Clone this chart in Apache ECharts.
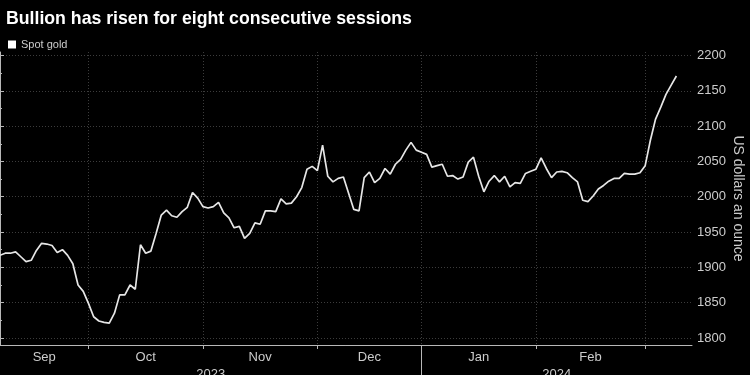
<!DOCTYPE html>
<html>
<head>
<meta charset="utf-8">
<script src="https://cdn.jsdelivr.net/npm/echarts@6/dist/echarts.min.js"></script>
<style>
html,body{margin:0;padding:0;background:#000;}
#chart{width:750px;height:375px;}
</style>
</head>
<body>
<div id="chart"></div>
<script>
// Spot gold, US dollars an ounce, one value per trading session
const sep = [1917, 1920, 1920, 1922, 1915, 1908, 1910, 1924, 1934, 1933, 1931, 1921, 1925, 1917, 1905, 1875, 1866, 1849];
const oct = [1830, 1824, 1822, 1821, 1835, 1861, 1861, 1875, 1869, 1932, 1920, 1923, 1948, 1974, 1981, 1973, 1971, 1979, 1985, 2006, 1998, 1986];
const nov = [1984, 1986, 1992, 1977, 1970, 1956, 1958, 1941, 1948, 1963, 1961, 1980, 1980, 1979, 1997, 1990, 1991, 2000, 2013, 2039, 2043, 2037];
const dec = [2073, 2029, 2021, 2026, 2028, 2005, 1982, 1980, 2027, 2035, 2020, 2026, 2040, 2032, 2046, 2053, 2066, 2077, 2066, 2063];
const jan = [2060, 2042, 2044, 2046, 2029, 2030, 2025, 2028, 2049, 2056, 2029, 2007, 2022, 2030, 2021, 2029, 2014, 2020, 2019, 2033, 2036, 2039];
const feb = [2055, 2040, 2027, 2035, 2036, 2034, 2027, 2021, 1995, 1993, 2001, 2011, 2016, 2022, 2026, 2026, 2033, 2032, 2032, 2034, 2044];
const mar = [2080, 2110, 2127, 2145, 2158, 2171];

const monthLabels = ["Sep", "Oct", "Nov", "Dec", "Jan", "Feb"];
const yearLabels = ["2023", "2024"];
const yTicks = [1800, 1850, 1900, 1950, 2000, 2050, 2100, 2150, 2200];
const yMinorTicks = [1825, 1875, 1925, 1975, 2025, 2075, 2125, 2175];

const months = [sep, oct, nov, dec, jan, feb, mar];
const values = [].concat(...months);
const seriesData = values.map((v, i) => [i, v]);

// month boundaries: index of last session in each month
const bounds = [];
let acc = 0;
months.slice(0, 6).forEach(m => { acc += m.length; bounds.push(acc - 1); });
const X_MAX = 133;
const monthCenters = bounds.map((b, k) => ((k === 0 ? 0 : bounds[k - 1]) + b) / 2);
const monthMap = {};
monthCenters.forEach((c, k) => { monthMap[c] = monthLabels[k]; });
const yearBoundary = bounds[3];
const yearCenters = [yearBoundary / 2, (yearBoundary + X_MAX) / 2];
const yearMap = {};
yearCenters.forEach((c, k) => { yearMap[c] = yearLabels[k]; });

const FONT = "Liberation Sans";
const chart = echarts.init(document.getElementById('chart'));
chart.setOption({
  backgroundColor: '#000',
  animation: false,
  title: {
    text: 'Bullion has risen for eight consecutive sessions',
    left: 1, top: 5,
    textStyle: { color: '#ffffff', fontSize: 17.7, fontWeight: 'bold', fontFamily: FONT }
  },
  legend: {
    data: ['Spot gold'],
    left: 3, top: 34,
    icon: 'rect', itemWidth: 8, itemHeight: 8, itemGap: 4,
    textStyle: { color: '#cccccc', fontSize: 11, fontFamily: FONT }
  },
  grid: { left: 0, right: 58, top: 52, bottom: 30, containLabel: false, outerBoundsMode: 'none' },
  xAxis: [
    {
      type: 'value', min: 0, max: X_MAX,
      axisLine: { show: true, onZero: false, lineStyle: { color: '#b8b8b8', width: 1 } },
      axisTick: { show: true, customValues: bounds, length: 4, lineStyle: { color: '#b8b8b8' } },
      splitLine: { show: true, lineStyle: { color: '#3c3c3c', type: [1, 2], width: 1 } },
      axisLabel: {
        customValues: monthCenters, margin: 6,
        color: '#cccccc', fontSize: 13, fontFamily: FONT,
        formatter: v => monthMap[v] || ''
      }
    },
    {
      type: 'value', min: 0, max: X_MAX, position: 'bottom',
      axisLine: { show: false, onZero: false },
      axisTick: { show: true, customValues: [yearBoundary], length: 40, lineStyle: { color: '#b8b8b8' } },
      splitLine: { show: false },
      axisLabel: {
        customValues: yearCenters, margin: 23,
        color: '#cccccc', fontSize: 13, fontFamily: FONT,
        formatter: v => yearMap[v] || ''
      }
    }
  ],
  yAxis: [
    {
      type: 'value', position: 'right', min: 1790, max: 2205,
      name: 'US dollars an ounce', nameLocation: 'middle', nameRotate: -90, nameGap: 39,
      nameMoveOverlap: false,
      nameTextStyle: { color: '#cccccc', fontSize: 14, fontFamily: FONT },
      axisLine: { show: true, lineStyle: { color: '#b8b8b8', width: 1 } },
      axisTick: { show: true, customValues: yTicks, length: 4, lineStyle: { color: '#b8b8b8' } },
      splitLine: { show: true, lineStyle: { color: '#3c3c3c', type: [1, 2], width: 1 } },
      axisLabel: {
        customValues: yTicks, margin: 5, color: '#cccccc', fontSize: 13, fontFamily: FONT,
        formatter: v => String(v)
      }
    },
    {
      type: 'value', position: 'right', min: 1790, max: 2205,
      axisLine: { show: false },
      axisTick: { show: true, customValues: yMinorTicks, length: 2, lineStyle: { color: '#b8b8b8' } },
      splitLine: { show: false },
      axisLabel: { show: false }
    }
  ],
  series: [{
    name: 'Spot gold', type: 'line', xAxisIndex: 0, yAxisIndex: 0,
    data: seriesData, showSymbol: false, symbol: 'none',
    itemStyle: { color: '#ffffff' },
    lineStyle: { color: '#e6e6e6', width: 1.7 }
  }]
});
</script>
</body>
</html>
